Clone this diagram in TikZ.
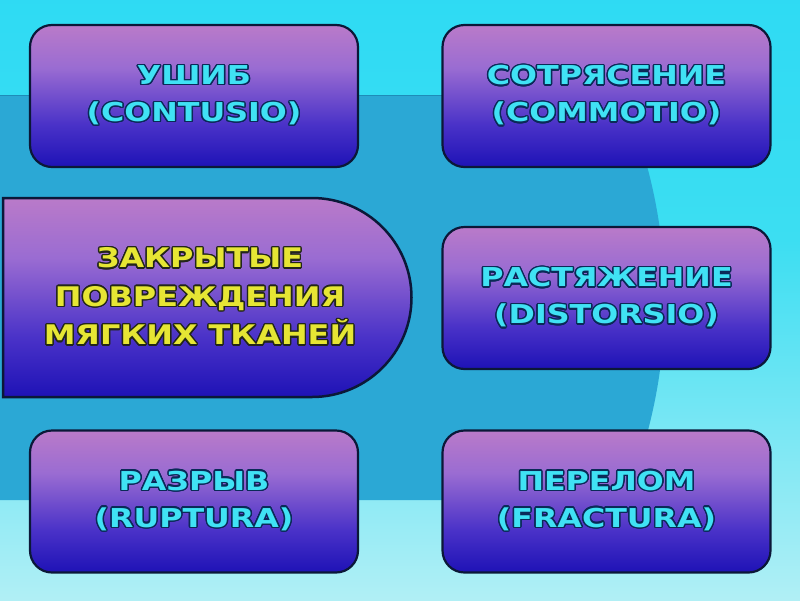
\documentclass[tikz,border=0pt]{standalone}
\usepackage{fontspec}
\usepackage{contour}
\newfontfamily\deco[FakeStretch=1.22]{DejaVu Sans}
\newfontfamily\decomain[FakeStretch=1.18]{DejaVu Sans}
\contourlength{1.4pt}
\definecolor{bgtop}{HTML}{1ED6F4}
\definecolor{bgmid}{HTML}{3CDEF2}
\definecolor{bgbot}{HTML}{C4F2F6}
\definecolor{band}{HTML}{2BA8D5}
\definecolor{bandline}{HTML}{1E8CB8}
\definecolor{boxbot}{HTML}{1E12B6}
\definecolor{boxlow}{HTML}{4A32C8}
\definecolor{boxmid}{HTML}{9A6CD2}
\definecolor{boxtop}{HTML}{C47FC6}
\definecolor{boxline}{HTML}{0B1838}
\definecolor{cyantext}{HTML}{40E2F4}
\definecolor{cyanline}{HTML}{0A2A58}
\definecolor{yellowtext}{HTML}{E6E634}
\definecolor{yellowline}{HTML}{22261A}
\pgfdeclareverticalshading{boxshade}{100bp}{color(0bp)=(boxbot); color(25bp)=(boxbot); color(40bp)=(boxlow); color(60bp)=(boxmid); color(80bp)=(boxtop); color(100bp)=(boxtop)}
\pgfdeclareverticalshading{bgshade}{100bp}{color(0bp)=(bgbot); color(20bp)=(bgbot); color(55bp)=(bgmid); color(100bp)=(bgtop)}
\newcommand{\cl}[1]{\contour{cyanline}{#1}}
\newcommand{\yl}[1]{\contour{yellowline}{#1}}
\begin{document}
\begin{tikzpicture}[x=1pt,y=-1pt,
  box/.style={shade, shading=boxshade, draw=boxline, line width=2.2pt,
    rounded corners=22pt, minimum width=328pt, minimum height=142pt,
    inner sep=0pt, align=center, text=cyantext,
    font=\deco\bfseries\fontsize{26}{37}\selectfont},
  maintext/.style={align=center, text=yellowtext, inner sep=0pt,
    font=\decomain\bfseries\fontsize{27}{38.5}\selectfont}]
\useasboundingbox (0,0) rectangle (800,600);
% background
\shade[shading=bgshade] (0,0) rectangle (800,600);
\fill[band] (-2,95) -- (622,95) arc[start angle=-23.6, end angle=23, radius=512] -- (-2,500) -- cycle;
\draw[bandline, line width=1pt] (-2,95) -- (622,95);
% central shape
\path[shade, shading=boxshade, draw=boxline, line width=2.5pt]
  (3,198) -- (312,198) arc[start angle=-90, end angle=90, radius=99.5] -- (3,397) -- cycle;
\node[maintext] (main) at (200,297) {\yl{ЗАКРЫТЫЕ}\\\yl{ПОВРЕЖДЕНИЯ}\\\yl{МЯГКИХ ТКАНЕЙ}};
% boxes
\node[box] (b1) at (194,96) {\cl{УШИБ}\\\cl{(CONTUSIO)}};
\node[box] (b2) at (606.5,96) {\cl{СОТРЯСЕНИЕ}\\\cl{(COMMOTIO)}};
\node[box] (b3) at (606.5,298) {\cl{РАСТЯЖЕНИЕ}\\\cl{(DISTORSIO)}};
\node[box] (b4) at (194,501.5) {\cl{РАЗРЫВ}\\\cl{(RUPTURA)}};
\node[box] (b5) at (606.5,501.5) {\cl{ПЕРЕЛОМ}\\\cl{(FRACTURA)}};
\end{tikzpicture}
\end{document}
